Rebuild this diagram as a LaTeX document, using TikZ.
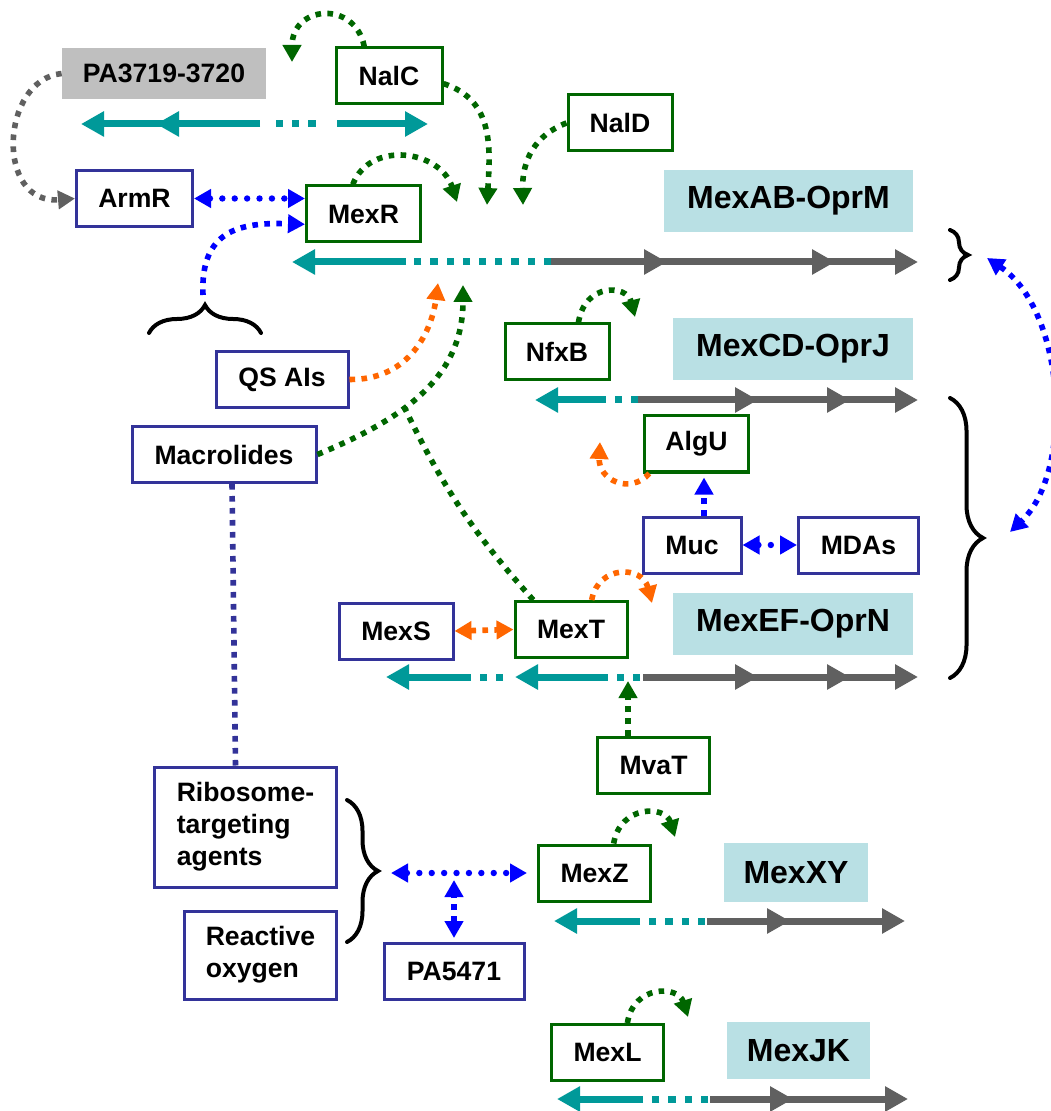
\documentclass[tikz,border=0pt]{standalone}
\usepackage{fontspec}
\setmainfont{Liberation Sans}
\usepackage{tikz}
\usetikzlibrary{positioning,arrows.meta,decorations.pathreplacing}

\definecolor{dkgreen}{RGB}{0,102,0}
\definecolor{boxblue}{RGB}{51,51,153}
\definecolor{arrblue}{RGB}{0,0,255}
\definecolor{orng}{RGB}{255,102,0}
\definecolor{tealgene}{RGB}{0,153,153}
\definecolor{genegray}{RGB}{96,96,96}
\definecolor{oprcyan}{RGB}{185,224,228}
\definecolor{pagray}{RGB}{191,191,191}

\newcommand{\lbl}{\fontsize{13.3}{16}\selectfont\bfseries}
\newcommand{\pmp}{\fontsize{16}{19}\selectfont\bfseries}

\tikzset{
  reg/.style={draw, line width=1.5pt, fill=white, minimum height=28pt, inner sep=0pt, font=\lbl},
  regg/.style={reg, draw=dkgreen},
  regb/.style={reg, draw=boxblue},
  pump/.style={fill=oprcyan, minimum height=31pt, inner sep=0pt, font=\pmp},
  pabox/.style={fill=pagray, minimum width=102pt, minimum height=25.5pt, inner sep=0pt, font=\lbl},
  sqdots/.style={line width=2.8pt, dash pattern=on 2.8pt off 3.2pt},
  rddots/.style={line width=3.2pt, line cap=round, dash pattern=on 0pt off 6.2pt},
  ahead/.style={-{Triangle[length=8.5pt,width=9pt]}},
  aheads/.style={{Triangle[length=8.5pt,width=9pt]}-{Triangle[length=8.5pt,width=9pt]}},
  gene/.style={line width=3.5pt, -{Triangle[length=11.5pt,width=12pt]}},
  genedots/.style={line width=3.5pt, dash pattern=on 3.6pt off 4.5pt},
  brc/.style={decorate, line width=2pt, line cap=round}
}

\begin{document}
\begin{tikzpicture}[x=0.5pt, y=-0.5pt]
\useasboundingbox (0,0) rectangle (1050,1111);

% Regulatoren und Pumpen
\node[pabox] (pa) at (164,73.5) {PA3719-3720};
\node[regg, minimum width=53pt] (nalc) at (389,76) {NalC};
\node[regb, minimum width=58pt] (armr) at (134.5,198.5) {ArmR};
\node[regg, minimum width=57pt] (mexr) at (363.5,214) {MexR};
\node[regg, minimum width=52pt] (nald) at (620,123) {NalD};
\node[pump, minimum width=124.5pt] (ab) at (788.5,201) {MexAB-OprM};
\node[regg, minimum width=52pt] (nfxb) at (557,352) {NfxB};
\node[pump, minimum width=120pt] (cd) at (793,349) {MexCD-OprJ};
\node[regb, minimum width=66pt] (qs) at (282,379.5) {QS AIs};
\node[regb, minimum width=92pt] (macro) at (224,454.5) {Macrolides};
\node[regg, minimum width=52pt] (algu) at (696.5,444) {AlgU};
\node[regb, minimum width=49pt] (muc) at (692,545) {Muc};
\node[regb, minimum width=60pt] (mdas) at (858.5,545) {MDAs};
\node[regb, minimum width=57pt] (mexs) at (396,631) {MexS};
\node[regg, minimum width=56pt] (mext) at (571,629.5) {MexT};
\node[pump, minimum width=120pt] (ef) at (793,624) {MexEF-OprN};
\node[regg, minimum width=56pt] (mvat) at (653.5,765.5) {MvaT};
\node[regb, minimum width=91pt, minimum height=60pt, align=left] (ribo) at (245.5,827) {Ribosome-\\targeting\\agents};
\node[regb, minimum width=76pt, minimum height=44pt, align=left] (ros) at (260.5,955) {Reactive\\oxygen};
\node[regb, minimum width=70pt] (pa5471) at (454,971.5) {PA5471};
\node[regg, minimum width=56pt] (mexz) at (594.5,873) {MexZ};
\node[pump, minimum width=72pt, minimum height=29.5pt] (xy) at (796,872.5) {MexXY};
\node[regg, minimum width=56pt] (mexl) at (607.5,1052.5) {MexL};
\node[pump, minimum width=71.5pt, minimum height=28.5pt] (jk) at (798.5,1050.5) {MexJK};

% Gene (Pfeile)
\draw[gene, tealgene] (260,124) -- (81,124);
\draw[gene, tealgene] (190,124) -- (156,124);
\draw[genedots, tealgene] (276,124) -- (318,124);
\draw[gene, tealgene] (337,124) -- (428,124);
% mexAB-oprM
\draw[gene, tealgene] (406,262) -- (292,262);
\draw[genedots, tealgene] (551,262) -- (406,262);
\draw[gene, genegray] (551,262) -- (918,262);
\foreach \b in {667,835}
  \draw[gene, genegray] (\b-30,262) -- (\b,262);
% mexCD-oprJ
\draw[gene, tealgene] (600,400) -- (535,400);
\draw[genedots, tealgene] (638,400) -- (600,400);
\draw[gene, genegray] (638,400) -- (918,400);
\foreach \b in {758,850}
  \draw[gene, genegray] (\b-30,400) -- (\b,400);
% mexEF-oprN
\draw[gene, tealgene] (470,677) -- (386,677);
\draw[genedots, tealgene] (503,677) -- (470,677);
\draw[gene, tealgene] (605,677) -- (515,677);
\draw[genedots, tealgene] (640,677) -- (605,677);
\draw[gene, genegray] (643,677) -- (918,677);
\foreach \b in {758,850}
  \draw[gene, genegray] (\b-30,677) -- (\b,677);
% mexXY
\draw[gene, tealgene] (638,921) -- (554,921);
\draw[genedots, tealgene] (705,921) -- (638,921);
\draw[gene, genegray] (707,921) -- (905,921);
\draw[gene, genegray] (760,921) -- (790,921);
% mexJK
\draw[gene, tealgene] (642,1099) -- (557,1099);
\draw[genedots, tealgene] (708,1099) -- (642,1099);
\draw[gene, genegray] (710,1099) -- (908,1099);
\draw[gene, genegray] (763,1099) -- (793,1099);

% Klammern
\draw[brc, decoration={brace, amplitude=14pt}] (149,333) -- (261,333);
\draw[brc, decoration={brace, amplitude=9pt}] (950,230) -- (950,280);
\draw[brc, decoration={brace, amplitude=16.5pt}] (950,398) -- (950,678);
\draw[brc, decoration={brace, amplitude=15.5pt}] (347,800) -- (347,942);

% freie Enden
\coordinate (nalctip) at (292,62);
\coordinate (abR) at (457,202);
\coordinate (abC) at (487,205);
\coordinate (abD) at (523,205);
\coordinate (abQ) at (438,283);
\coordinate (abM) at (463,285);
\coordinate (nfxtip) at (635,317);
\coordinate (algtip) at (600,442);
\coordinate (mexttip) at (652,603);
\coordinate (efpro) at (628,681);
\coordinate (ztip) at (675,837);
\coordinate (ltip) at (688,1017);
\coordinate (tlbrace) at (203,295);
\coordinate (abbrace) at (987,258);
\coordinate (cdefbrace) at (1010,532);
\coordinate (rbrace) at (391,873);
\coordinate (mucup) at ([xshift=6pt]muc.north);

% Regulation
\draw[sqdots, ahead, genegray] (pa.west) .. controls (0,80) and (-5,205) .. (armr.west);
\draw[sqdots, ahead, dkgreen] (nalc.130) .. controls (355,0) and (292,5) .. (nalctip);
\draw[sqdots, ahead, dkgreen] (nalc.-8) .. controls (495,100) and (490,150) .. (abC);
\draw[sqdots, ahead, dkgreen] (nald.west) .. controls (535,135) and (522,160) .. (abD);
\draw[sqdots, ahead, dkgreen] (mexr.110) .. controls (370,140) and (440,150) .. (abR);
\draw[rddots, aheads, arrblue] (armr.east) -- (armr.east -| mexr.west);
\draw[sqdots, ahead, arrblue] (tlbrace) .. controls (200,230) and (240,222) .. (mexr.190);
\draw[sqdots, ahead, orng] (qs.east) .. controls (410,380) and (432,330) .. (abQ);
\draw[sqdots, ahead, dkgreen] (macro.east) .. controls (400,420) and (463,380) .. (abM) coordinate[pos=0.4] (mj);
\draw[sqdots, dkgreen] (mext.142) to[bend left=8] (mj);
\draw[sqdots, ahead, dkgreen] (nfxb.54) .. controls (585,282) and (627,285) .. (nfxtip);
\draw[sqdots, ahead, orng] (algu.212) .. controls (630,495) and (598,480) .. (algtip);
\draw[sqdots, ahead, arrblue, shorten >=2pt] (mucup) -- (mucup |- algu.south);
\draw[rddots, aheads, arrblue] (muc.east) -- (mdas.west);
\draw[sqdots, aheads, orng] (mexs.east) -- (mext.west);
\draw[sqdots, ahead, orng] (mext.55) .. controls (598,565) and (642,565) .. (mexttip);
\draw[sqdots, ahead, dkgreen] (mvat.north -| efpro) -- (efpro);
\draw[sqdots, boxblue] ([xshift=4pt]macro.south) -- ([xshift=-5pt]ribo.north);
\draw[sqdots, aheads, arrblue] (abbrace) .. controls (1065,310) and (1075,470) .. (cdefbrace);
\draw[rddots, aheads, arrblue, shorten >=5pt] (rbrace) -- (mexz.west);
\draw[sqdots, aheads, arrblue, shorten <=2pt, shorten >=3.5pt] (pa5471.north) -- (pa5471.north |- rbrace);
\draw[sqdots, ahead, dkgreen] (mexz.57) .. controls (620,805) and (665,805) .. (ztip);
\draw[sqdots, ahead, dkgreen] (mexl.56) .. controls (633,985) and (678,985) .. (ltip);

\end{tikzpicture}
\end{document}
